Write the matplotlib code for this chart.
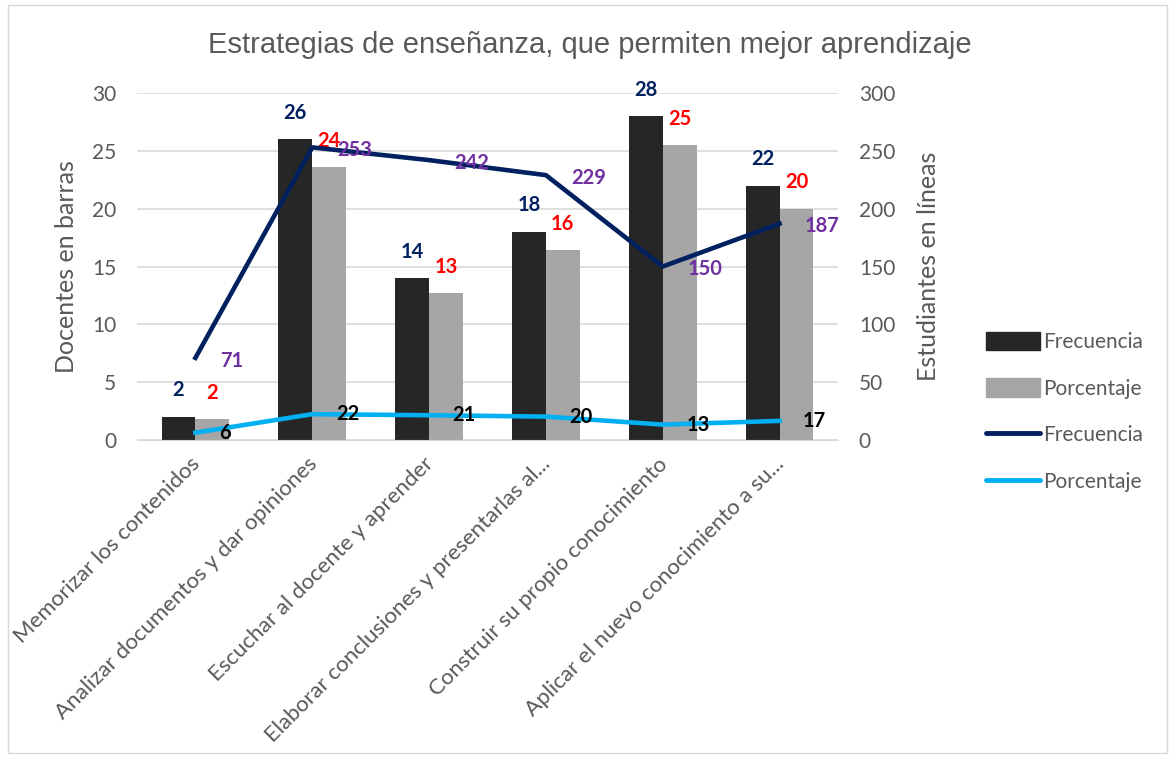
import numpy as np
import matplotlib
matplotlib.use("Agg")
import matplotlib.pyplot as plt
import matplotlib.transforms as mtransforms
from matplotlib.patches import Rectangle, Patch
from matplotlib.lines import Line2D

categorias = ["Memorizar los contenidos",
              "Analizar documentos y dar opiniones",
              "Escuchar al docente y aprender",
              "Elaborar conclusiones y presentarlas al...",
              "Construir su propio conocimiento",
              "Aplicar el nuevo conocimiento a su..."]
doc_frec = [2, 26, 14, 18, 28, 22]
doc_pct = [1.8, 23.6, 12.7, 16.4, 25.5, 20.0]
doc_pct_lab = ["2", "24", "13", "16", "25", "20"]
est_frec = [71, 253, 242, 229, 150, 187]
est_pct = [6.3, 22.3, 21.4, 20.2, 13.3, 16.5]
est_pct_lab = ["6", "22", "21", "20", "13", "17"]

gris = "#595959"
fig = plt.figure(figsize=(11.71, 7.57), dpi=100)
fig.patches.append(Rectangle((0.007, 0.005), 0.99, 0.988, transform=fig.transFigure,
                             fill=False, edgecolor="#d9d9d9", lw=1))
ax = fig.add_axes([0.117, 0.4188, 0.5986, 0.4583])
ax2 = ax.twinx()

x = np.arange(len(categorias))
w = 0.29
ax.bar(x - w / 2, doc_frec, w, color="#262626", zorder=2)
ax.bar(x + w / 2, doc_pct, w, color="#a6a6a6", zorder=2)
ax.set_ylim(0, 30)
ax.set_yticks(range(0, 31, 5))
ax.set_xlim(-0.5, 5.5)
ax.grid(axis="y", color="#d9d9d9", lw=1.2, zorder=0)
ax.set_axisbelow(True)

ax2.plot(x, est_frec, color="#002060", lw=3.3, zorder=3)
ax2.plot(x, est_pct, color="#00b0f0", lw=3.3, zorder=3)
ax2.set_ylim(0, 300)
ax2.set_yticks(range(0, 301, 50))

for a in (ax, ax2):
    for s in a.spines.values():
        s.set_visible(False)
    a.tick_params(length=0, labelsize=15, labelcolor=gris, pad=15)
    for t in a.get_yticklabels():
        t.set_fontfamily("Lato")
ax.spines["bottom"].set_visible(True)
ax.spines["bottom"].set_color("#d9d9d9")

ax.set_xticks(x)
ax.set_xticklabels(categorias, rotation=45, ha="right", rotation_mode="anchor",
                   fontsize=16, color=gris, family="Lato")
ax.tick_params(axis="x", pad=10)
desplaza = mtransforms.ScaledTranslation(-4 / 72, 0, fig.dpi_scale_trans)
for t in ax.get_xticklabels():
    t.set_transform(t.get_transform() + desplaza)

ax.set_ylabel("Docentes en barras", fontsize=18, color=gris, family="Lato", labelpad=10)
ax2.set_ylabel("Estudiantes en líneas", fontsize=18, color=gris, family="Lato", labelpad=16)
fig.text(0.504, 0.94, "Estrategias de enseñanza, que permiten mejor aprendizaje",
         ha="center", va="center", fontsize=21, color=gris, family="Liberation Sans")

lab = dict(fontsize=14.5, fontweight="bold", family="Lato")
for i in range(len(x)):
    ax.annotate(f"{doc_frec[i]}", (x[i] - w / 2, doc_frec[i]), xytext=(0, 19),
                textcoords="offset points", ha="center", va="center", color="#002060", **lab)
    ax.annotate(doc_pct_lab[i], (x[i] + w / 2, doc_pct[i]), xytext=(0, 19),
                textcoords="offset points", ha="center", va="center", color="#ff0000", **lab)
    ax2.annotate(f"{est_frec[i]}", (x[i], est_frec[i]), xytext=(18, -2),
                 textcoords="offset points", ha="left", va="center", color="#7030a0", zorder=5, **lab)
    ax2.annotate(est_pct_lab[i], (x[i], est_pct[i]), xytext=(17, 0),
                 textcoords="offset points", ha="left", va="center", color="black", zorder=5, **lab)

handles = [Patch(color="#262626"), Patch(color="#a6a6a6"),
           Line2D([], [], color="#002060", lw=3.5, solid_capstyle="round"),
           Line2D([], [], color="#00b0f0", lw=3.5, solid_capstyle="round")]
leg = fig.legend(handles, ["Frecuencia", "Porcentaje", "Frecuencia", "Porcentaje"],
                 loc="center left", bbox_to_anchor=(0.826, 0.456), frameon=False,
                 prop={"family": "Lato", "size": 15}, labelspacing=1.25,
                 handlelength=2.6, handleheight=1.0, handletextpad=0.15)
for t in leg.get_texts():
    t.set_color(gris)

fig.savefig("out.png", dpi=100)
